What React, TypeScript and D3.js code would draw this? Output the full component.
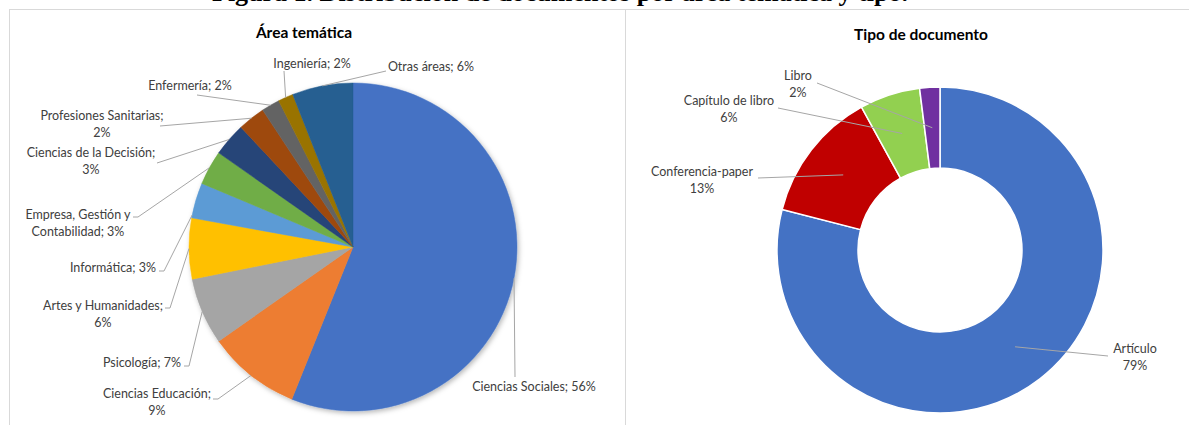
import React from "react";
import * as d3 from "d3";

// ---------- data ----------
const areaCategories = [
  "Ciencias Sociales", "Ciencias Educación", "Psicología", "Artes y Humanidades",
  "Informática", "Empresa, Gestión y Contabilidad", "Ciencias de la Decisión",
  "Profesiones Sanitarias", "Enfermería", "Ingeniería", "Otras áreas",
];
const areaValues = [56.2, 9.2, 6.6, 6.0, 3.5, 3.4, 3.3, 2.7, 1.8, 1.5, 6.0];
const areaPctLabels = ["56%", "9%", "7%", "6%", "3%", "3%", "3%", "2%", "2%", "2%", "6%"];
const areaColors = [
  "#4472C4", "#ED7D31", "#A5A5A5", "#FFC000", "#5B9BD5", "#70AD47",
  "#264478", "#9E480E", "#636363", "#997300", "#255E91",
];

const docCategories = ["Artículo", "Conferencia-paper", "Capítulo de libro", "Libro"];
const docValues = [79, 13, 6, 2];
const docPctLabels = ["79%", "13%", "6%", "2%"];
const docColors = ["#4472C4", "#C00000", "#92D050", "#7030A0"];

// ---------- layout ----------
const W = 1189, H = 425;
const LABEL_FONT = "Lato, 'Noto Sans', sans-serif";
const LABEL_SIZE = 12.5;
const TITLE_SIZE = 15.5;
const LINE_H = 16.5;

const pieC = { x: 353, y: 247, r: 164 };
const donutC = { x: 940, y: 250, r: 163, ri: 82 };

// label layout for the area pie (text lines built from data)
type LL = { cx: number; cy: number; lines: (n: string, p: string) => string[]; pts: [number, number][]; t?: number };
const areaLabelLayout: LL[] = [
  { cx: 534, cy: 387, lines: (n, p) => [`${n}; ${p}`], pts: [[515, 377]] },
  { cx: 157, cy: 394, lines: (n, p) => [`${n};`, p], pts: [[213, 399], [218, 399]] },
  { cx: 142, cy: 363, lines: (n, p) => [`${n}; ${p}`], pts: [[184, 366], [189, 366]] },
  { cx: 103, cy: 306, lines: (n, p) => [`${n};`, p], pts: [[165, 308], [170, 308]] },
  { cx: 113, cy: 268, lines: (n, p) => [`${n}; ${p}`], pts: [[159, 271], [164, 271]], t: 0.08 },
  { cx: 78, cy: 215, lines: (n, p) => ["Empresa, Gestión y", `Contabilidad; ${p}`], pts: [[133, 217], [138, 217]] },
  { cx: 91, cy: 153, lines: (n, p) => [`${n};`, p], pts: [[157, 163]] },
  { cx: 102, cy: 116, lines: (n, p) => [`${n};`, p], pts: [[160, 126]] },
  { cx: 190, cy: 86, lines: (n, p) => [`${n}; ${p}`], pts: [[197, 95]] },
  { cx: 312, cy: 64, lines: (n, p) => [`${n}; ${p}`], pts: [[284, 71]] },
  { cx: 431, cy: 67, lines: (n, p) => [`${n}; ${p}`], pts: [[386, 71]] },
];

const docLabelLayout: { cx: number; cy: number; pts: [number, number][] }[] = [
  { cx: 1135, cy: 349, pts: [[1108, 356]] },
  { cx: 702, cy: 172, pts: [[758, 178]] },
  { cx: 729, cy: 101, pts: [[778, 108]] },
  { cx: 798, cy: 76, pts: [[817, 83]] },
];

export default function App() {
  const pieGen = d3.pie<number>().sort(null).value((d) => d);
  const areaArcs = pieGen(areaValues);
  const docArcs = pieGen(docValues);

  const areaArc = d3.arc<d3.PieArcDatum<number>>().innerRadius(0).outerRadius(pieC.r);
  const docArc = d3.arc<d3.PieArcDatum<number>>().innerRadius(donutC.ri).outerRadius(donutC.r);

  const line = d3.line<[number, number]>();

  const edgePoint = (a: d3.PieArcDatum<number>, t = 0.5): [number, number] => {
    const ang = a.startAngle + (a.endAngle - a.startAngle) * t;
    return [pieC.x + pieC.r * Math.sin(ang), pieC.y - pieC.r * Math.cos(ang)];
  };

  return (
    <svg
      width={W}
      height={H}
      style={{ position: "absolute", left: 0, top: 0, background: "#fff" }}
    >
      <defs>
        <filter id="pieShadow" x="-20%" y="-20%" width="140%" height="140%">
          <feDropShadow dx="1.5" dy="2" stdDeviation="2.5" floodColor="#000" floodOpacity="0.28" />
        </filter>
      </defs>
      <rect x={0} y={0} width={W} height={H} fill="#fff" />

      {/* figure caption, cut off at the top edge as in the source */}
      <text
        x={212}
        y={1}
        fontFamily="'Liberation Serif', 'Times New Roman', serif"
        fontWeight="bold"
        fontSize={26}
        fill="#000"
      >
        Figura 1. Distribución de documentos por área temática y tipo.
      </text>

      {/* panel borders */}
      <line x1={9} x2={W} y1={9.5} y2={9.5} stroke="#D9D9D9" strokeWidth={1} />
      <line x1={9.5} x2={9.5} y1={9} y2={H} stroke="#D9D9D9" strokeWidth={1} />
      <line x1={625.5} x2={625.5} y1={9} y2={H} stroke="#D9D9D9" strokeWidth={1} />

      {/* ---------- left: pie ---------- */}
      <text x={304} y={33} dy="0.35em" textAnchor="middle" fontFamily={LABEL_FONT}
        fontWeight="bold" fontSize={TITLE_SIZE} fill="#000">Área temática</text>

      <g transform={`translate(${pieC.x},${pieC.y})`} filter="url(#pieShadow)">
        {areaArcs.map((a, i) => (
          <path key={i} d={areaArc(a) || ""} fill={areaColors[i]} stroke={areaColors[i]} strokeWidth={0.5} />
        ))}
      </g>

      {areaArcs.map((a, i) => {
        const L = areaLabelLayout[i];
        const pts = [...L.pts, edgePoint(a, L.t ?? 0.5)] as [number, number][];
        return (
          <path key={"l" + i} d={line(pts) || ""} fill="none" stroke="#A6A6A6" strokeWidth={1} />
        );
      })}
      {areaArcs.map((a, i) => {
        const L = areaLabelLayout[i];
        const lines = L.lines(areaCategories[i], areaPctLabels[i]);
        return (
          <text key={"t" + i} textAnchor="middle" fontFamily={LABEL_FONT} fontSize={LABEL_SIZE} fill="#404040">
            {lines.map((s, k) => (
              <tspan key={k} x={L.cx} y={L.cy + k * LINE_H} dy="0.35em">{s}</tspan>
            ))}
          </text>
        );
      })}

      {/* ---------- right: donut ---------- */}
      <text x={921} y={35} dy="0.35em" textAnchor="middle" fontFamily={LABEL_FONT}
        fontWeight="bold" fontSize={TITLE_SIZE} fill="#000">Tipo de documento</text>

      <g transform={`translate(${donutC.x},${donutC.y})`}>
        {docArcs.map((a, i) => (
          <path key={i} d={docArc(a) || ""} fill={docColors[i]} stroke="#fff" strokeWidth={1.5} />
        ))}
      </g>

      {docArcs.map((a, i) => {
        const c = docArc.centroid(a);
        const pts = [...docLabelLayout[i].pts, [donutC.x + c[0], donutC.y + c[1]]] as [number, number][];
        return <path key={"dl" + i} d={line(pts) || ""} fill="none" stroke="#A6A6A6" strokeWidth={1} />;
      })}
      {docArcs.map((a, i) => {
        const L = docLabelLayout[i];
        return (
          <text key={"dt" + i} textAnchor="middle" fontFamily={LABEL_FONT} fontSize={LABEL_SIZE} fill="#404040">
            <tspan x={L.cx} y={L.cy} dy="0.35em">{docCategories[i]}</tspan>
            <tspan x={L.cx} y={L.cy + LINE_H} dy="0.35em">{docPctLabels[i]}</tspan>
          </text>
        );
      })}
    </svg>
  );
}
